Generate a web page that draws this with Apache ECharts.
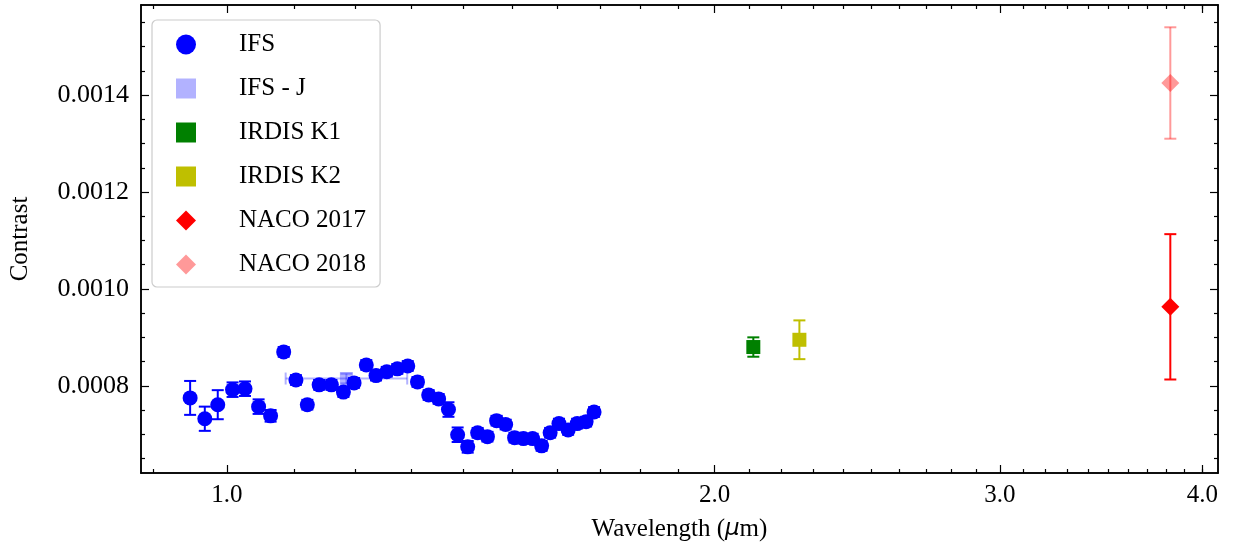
<!DOCTYPE html>
<html>
<head>
<meta charset="utf-8">
<script src="https://cdn.jsdelivr.net/npm/echarts@6/dist/echarts.min.js"></script>
<style>html,body{margin:0;padding:0;background:#fff}#chart{width:1234px;height:547px}</style>
</head>
<body>
<div id="chart"></div>
<script>
// wavelength (um), contrast, error
var ifsWave = [0.949,0.969,0.987,1.008,1.026,1.046,1.064,1.084,1.103,1.121,1.140,1.160,1.180,1.198,1.219,1.236,1.255,1.274,1.293,1.311,1.332,1.351,1.370,1.388,1.408,1.428,1.448,1.467,1.486,1.505,1.524,1.544,1.564,1.583,1.603,1.624,1.645,1.666,1.685];
var ifsVal = [0.000775,0.000732,0.000761,0.000792,0.000794,0.000757,0.000738,0.000870,0.000812,0.000761,0.000802,0.000802,0.000787,0.000806,0.000843,0.000821,0.000829,0.000835,0.000841,0.000808,0.000781,0.000773,0.000751,0.000699,0.000674,0.000703,0.000695,0.000728,0.000720,0.000693,0.000691,0.000691,0.000676,0.000703,0.000722,0.000709,0.000722,0.000726,0.000746];
var ifsErr = [0.000035,0.000025,0.00003,0.000015,0.000015,0.000015,0.000012,0.00001,0.00001,0.00001,0.00001,0.00001,0.00001,0.00001,0.00001,0.00001,0.00001,0.00001,0.00001,0.00001,0.00001,0.00001,0.000015,0.000015,0.000012,0.00001,0.00001,0.00001,0.00001,0.00001,0.00001,0.00001,0.00001,0.00001,0.00001,0.00001,0.00001,0.00001,0.00001];
var ifsJ = {wave: 1.185, lo: 1.087, hi: 1.292, val: 0.000815, err: 0.00001};
var k1 = {wave: 2.113, val: 0.00088, err: 0.00002};
var k2 = {wave: 2.256, val: 0.000895, err: 0.00004};
var naco17 = {wave: 3.822, val: 0.000963, err: 0.00015};
var naco18 = {wave: 3.822, val: 0.001425, err: 0.000115};

var majorX = [1, 2, 3, 4];
var minorX = [0.9,1.1,1.2,1.3,1.4,1.5,1.6,1.7,1.8,1.9,2.1,2.2,2.3,2.4,2.5,2.6,2.7,2.8,2.9,3.1,3.2,3.3,3.4,3.5,3.6,3.7,3.8,3.9,4.0];
var majorY = [0.0008, 0.0010, 0.0012, 0.0014];
var minorY = [0.00065,0.0007,0.00075,0.00085,0.0009,0.00095,0.00105,0.0011,0.00115,0.00125,0.0013,0.00135,0.00145,0.0015,0.00155];

var L = Math.log10;
var FONT = 'Liberation Serif';

function errSeries(name, rows, color, opacity) {
    return {
        name: name, type: 'custom', z: 2,
        renderItem: function (params, api) {
            var x = api.value(0), yl = api.value(1), yh = api.value(2), xl = api.value(3), xh = api.value(4);
            var pLo = api.coord([x, yl]), pHi = api.coord([x, yh]);
            var style = {stroke: color, lineWidth: 2, opacity: opacity};
            var kids = [
                {type: 'line', shape: {x1: pLo[0], y1: pLo[1], x2: pHi[0], y2: pHi[1]}, style: style},
                {type: 'line', shape: {x1: pLo[0]-6, y1: pLo[1], x2: pLo[0]+6, y2: pLo[1]}, style: style},
                {type: 'line', shape: {x1: pHi[0]-6, y1: pHi[1], x2: pHi[0]+6, y2: pHi[1]}, style: style}
            ];
            if (xl !== xh) {
                var ym = (yl + yh) / 2;
                var a = api.coord([xl, ym]), b = api.coord([xh, ym]);
                kids.push({type: 'line', shape: {x1: a[0], y1: a[1], x2: b[0], y2: b[1]}, style: style});
                kids.push({type: 'line', shape: {x1: a[0], y1: a[1]-6, x2: a[0], y2: a[1]+6}, style: style});
                kids.push({type: 'line', shape: {x1: b[0], y1: b[1]-6, x2: b[0], y2: b[1]+6}, style: style});
            }
            return {type: 'group', children: kids};
        },
        data: rows,
        tooltip: {show: false}
    };
}

function pt(o) { return [[L(o.wave), o.val]]; }
function er(o) { return [[L(o.wave), o.val - o.err, o.val + o.err, L(o.wave), L(o.wave)]]; }

var ifsPts = ifsWave.map(function (w, i) { return [L(w), ifsVal[i]]; });
var ifsErrRows = ifsWave.map(function (w, i) { return [L(w), ifsVal[i] - ifsErr[i], ifsVal[i] + ifsErr[i], L(w), L(w)]; });

var xmin = L(0.885), xmax = L(4.09), ymin = 0.00062, ymax = 0.001586;
var axLine = {show: true, onZero: false, lineStyle: {color: '#000', width: 1.5}};

function xAx(pos, vals, len, labels) {
    return {
        type: 'value', position: pos, min: xmin, max: xmax, splitLine: {show: false},
        axisLine: axLine,
        axisTick: {show: true, inside: true, length: len, lineStyle: {color: '#000', width: 1.2}, customValues: vals.map(L)},
        axisLabel: labels ? {show: true, customValues: majorX.map(L), formatter: function (v) { return Math.pow(10, v).toFixed(1); },
            fontFamily: FONT, fontSize: 25, color: '#000', margin: 10} : {show: false},
        name: labels ? 'Wavelength ({i|\u03BC}m)' : '', nameLocation: 'middle', nameGap: 44,
        nameTextStyle: {fontFamily: FONT, fontSize: 25, color: '#000', rich: {i: {fontFamily: 'DejaVu Sans', fontStyle: 'italic', fontSize: 23}}}
    };
}
function yAx(pos, vals, len, labels) {
    return {
        type: 'value', position: pos, min: ymin, max: ymax, splitLine: {show: false},
        axisLine: axLine,
        axisTick: {show: true, inside: true, length: len, lineStyle: {color: '#000', width: 1.2}, customValues: vals},
        axisLabel: labels ? {show: true, customValues: majorY, formatter: function (v) { return v.toFixed(4); },
            fontFamily: FONT, fontSize: 26, color: '#000', margin: 12} : {show: false},
        name: labels ? 'Contrast' : '', nameLocation: 'middle', nameGap: 108,
        nameTextStyle: {fontFamily: FONT, fontSize: 25, color: '#000'}
    };
}

var chart = echarts.init(document.getElementById('chart'));
chart.setOption({
    animation: false,
    grid: {left: 136, right: 16, top: 5, bottom: 73},
    xAxis: [xAx('bottom', majorX, 8, true), xAx('bottom', minorX, 4, false), xAx('top', majorX, 8, false), xAx('top', minorX, 4, false)],
    yAxis: [yAx('left', majorY, 8, true), yAx('left', minorY, 4, false), yAx('right', majorY, 8, false), yAx('right', minorY, 4, false)],
    legend: {
        orient: 'vertical', left: 152, top: 20, itemGap: 19, itemWidth: 20, itemHeight: 20,
        backgroundColor: '#fff', borderColor: '#ccc', borderWidth: 1.2, borderRadius: 5, padding: [12, 14, 10, 24],
        textStyle: {fontFamily: FONT, fontSize: 25, color: '#000', padding: [0, 0, 0, 38]},
        data: ['IFS', 'IFS - J', 'IRDIS K1', 'IRDIS K2', 'NACO 2017', 'NACO 2018']
    },
    series: [
        errSeries('e1', ifsErrRows, '#0000ff', 1),
        {name: 'IFS', type: 'scatter', symbol: 'circle', symbolSize: 15, itemStyle: {color: '#0000ff', opacity: 1}, data: ifsPts, z: 3},
        errSeries('e2', [[L(ifsJ.wave), ifsJ.val - ifsJ.err, ifsJ.val + ifsJ.err, L(ifsJ.lo), L(ifsJ.hi)]], '#0000ff', 0.3),
        {name: 'IFS - J', type: 'scatter', symbol: 'rect', symbolSize: 13, itemStyle: {color: '#0000ff', opacity: 0.3}, data: pt(ifsJ), z: 3},
        errSeries('e3', er(k1), '#008000', 1),
        {name: 'IRDIS K1', type: 'scatter', symbol: 'rect', symbolSize: 14, itemStyle: {color: '#008000', opacity: 1}, data: pt(k1), z: 3},
        errSeries('e4', er(k2), '#bfbf00', 1),
        {name: 'IRDIS K2', type: 'scatter', symbol: 'rect', symbolSize: 14, itemStyle: {color: '#bfbf00', opacity: 1}, data: pt(k2), z: 3},
        errSeries('e5', er(naco17), '#ff0000', 1),
        {name: 'NACO 2017', type: 'scatter', symbol: 'diamond', symbolSize: 18, itemStyle: {color: '#ff0000', opacity: 1}, data: pt(naco17), z: 3},
        errSeries('e6', er(naco18), '#ff0000', 0.4),
        {name: 'NACO 2018', type: 'scatter', symbol: 'diamond', symbolSize: 18, itemStyle: {color: '#ff0000', opacity: 0.4}, data: pt(naco18), z: 3}
    ]
});
</script>
</body>
</html>
